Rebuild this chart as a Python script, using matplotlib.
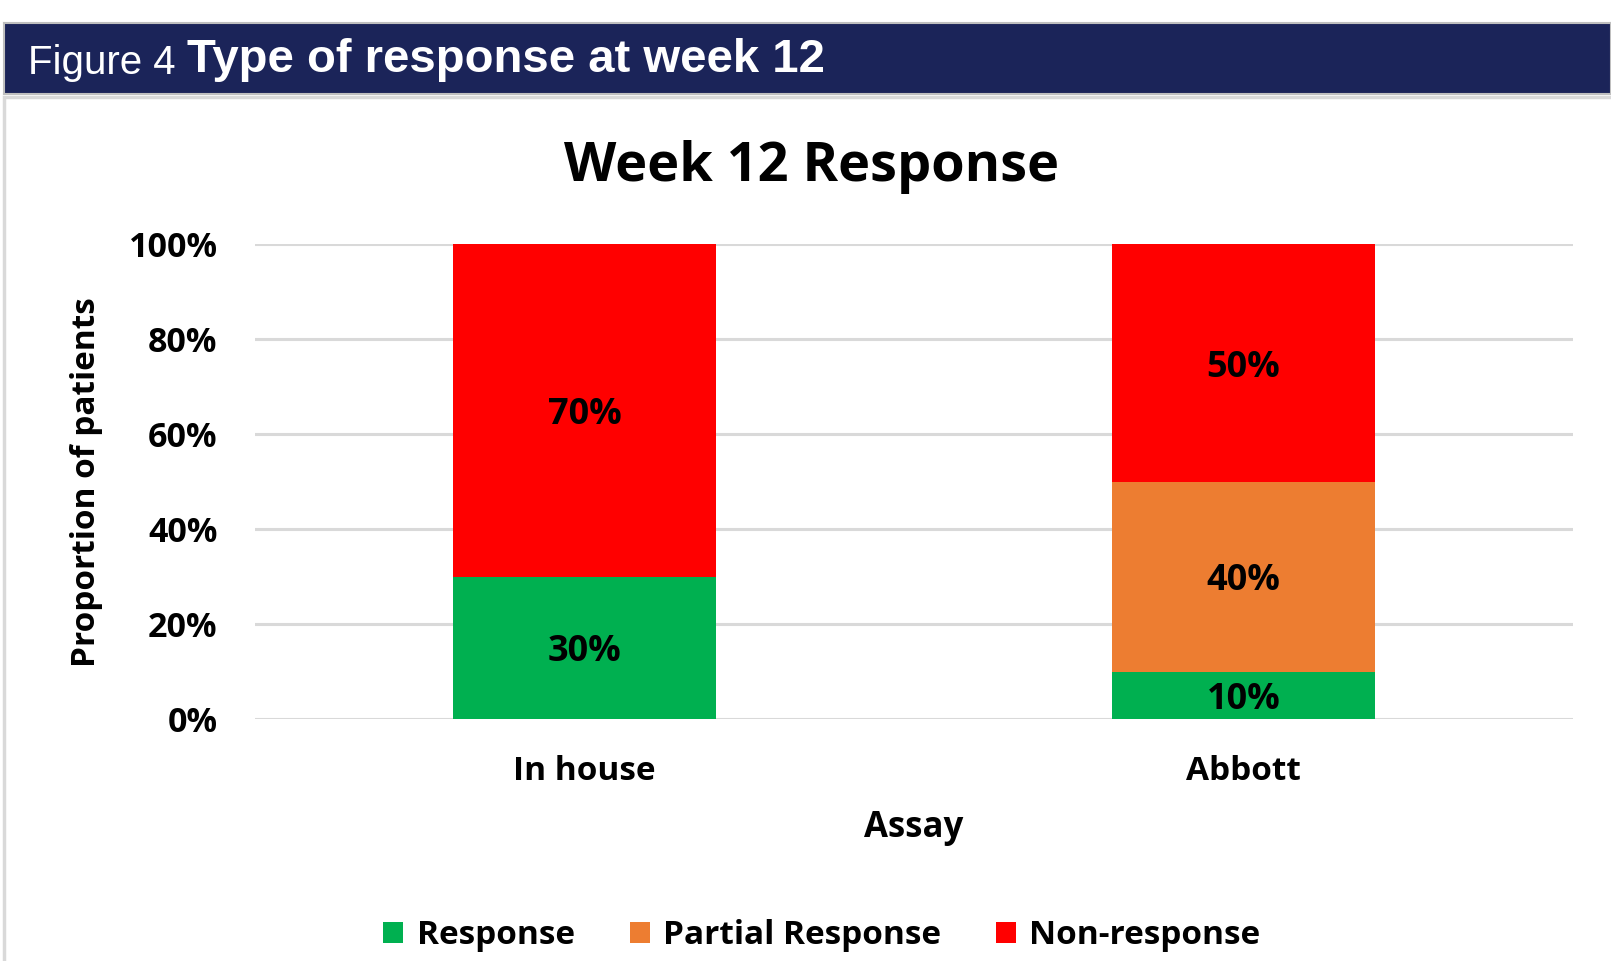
import matplotlib as mpl
mpl.use('Agg')
import matplotlib.pyplot as plt
from matplotlib.patches import Rectangle
import numpy as np

# data
assays = ["In house", "Abbott"]
response = [30, 10]
partial = [0, 40]
non_response = [70, 50]
series_names = ["Response", "Partial Response", "Non-response"]
series_colors = ['#00B050', '#ED7D31', '#FF0000']
yticks = [0, 20, 40, 60, 80, 100]

W, H = 1611, 961
font = 'Open Sans'

fig = plt.figure(figsize=(W / 100, H / 100), dpi=100)
fig.patch.set_facecolor('white')

# chart frame and header banner
fig.patches.append(Rectangle((4 / W, -0.1), 1.2, 1 - 97 / H + 0.1, transform=fig.transFigure,
                             fc='none', ec='#D9D9D9', lw=2.5, zorder=0))
hax = fig.add_axes([4 / W, 1 - 94 / H, 1 - 4 / W, 71 / H])
hax.set_facecolor('#1B2459')
hax.set_xticks([])
hax.set_yticks([])
for s in hax.spines.values():
  s.set_color('#BFBFBF')
  s.set_linewidth(1.5)
t1 = hax.text(24 / (W - 4), 0.17, "Figure 4", color='white', fontsize=29,
              family='Liberation Sans', va='bottom', ha='left', transform=hax.transAxes)
hax.annotate("Type of response at week 12", xy=(1, 0), xycoords=t1, xytext=(8, 0),
             textcoords='offset points', color='white', fontsize=34, fontweight='bold',
             family='Liberation Sans', va='bottom', ha='left')

# main chart
ax = fig.add_axes([255 / W, 1 - 719 / H, (1573 - 255) / W, (719 - 244.5) / H])
ax.set_zorder(2)
x = np.arange(len(assays))
bottom = np.zeros(len(assays))
bars = []
for vals, name, col in zip([response, partial, non_response], series_names, series_colors):
  b = ax.bar(x, vals, width=0.4, bottom=bottom, color=col, label=name, zorder=3)
  bars.append(b)
  for xi, v, b0 in zip(x, vals, bottom):
    if v > 0:
      ax.text(xi, b0 + v / 2, f"{v}%", ha='center', va='center_baseline', fontsize=26,
              fontweight='bold', family=font, color='black', zorder=4)
  bottom = bottom + np.array(vals)

ax.set_xlim(-0.5, 1.5)
ax.set_ylim(0, 100)
ax.set_yticks(yticks)
ax.set_yticklabels([f"{v}%" for v in yticks], fontsize=24.5, fontweight='bold', family=font)
ax.set_xticks(x)
ax.set_xticklabels(assays, fontsize=24, fontweight='bold', family=font)
ax.tick_params(axis='both', length=0)
ax.tick_params(axis='y', pad=27)
ax.tick_params(axis='x', pad=26)
ax.grid(axis='y', color='#D9D9D9', lw=2.2, zorder=0)
ax.set_axisbelow(True)
for s in ax.spines.values():
  s.set_visible(False)

ax.set_xlabel("Assay", fontsize=25, fontweight='bold', family=font, labelpad=16)
ax.set_ylabel("Proportion of patients", fontsize=24, fontweight='bold', family=font, labelpad=18)
fig.text(812 / W, 1 - 160 / H, "Week 12 Response", fontsize=39, fontweight='bold', family=font,
         ha='center', va='center_baseline')

fig.legend(handles=bars, labels=series_names, loc='center', bbox_to_anchor=(822 / W, 1 - 936 / H),
           ncol=3, frameon=False, handlelength=0.6, handleheight=0.6, handletextpad=0.4,
           columnspacing=1.65, prop={'family': font, 'size': 24, 'weight': 'bold'})

fig.savefig('out.png', dpi=100)
